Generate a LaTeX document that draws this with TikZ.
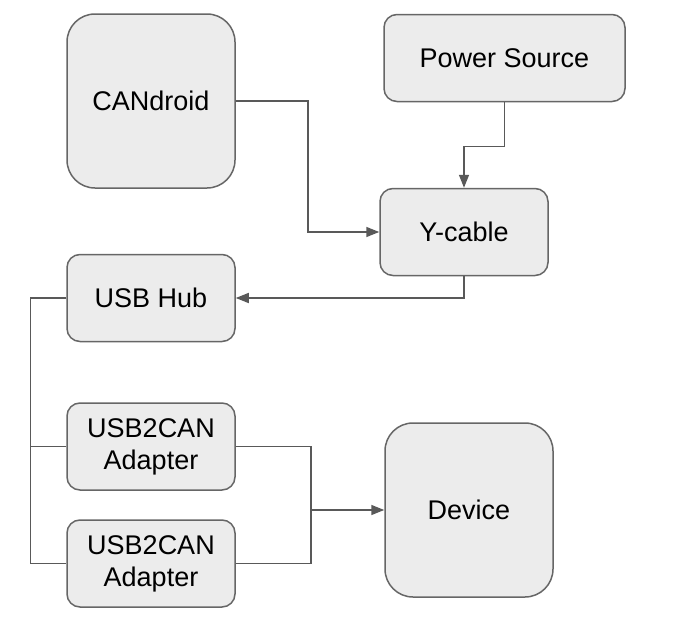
\documentclass[tikz,border=0pt]{standalone}
\usepackage{fontspec}
\setmainfont{Liberation Sans}
\usepackage{tikz}
\usetikzlibrary{arrows.meta, positioning, calc}
\usepackage{xcolor}

\begin{document}
\begin{tikzpicture}[
    x=1pt, y=-1pt,
    box/.style   = {rectangle, rounded corners=13pt, draw=gray!80!black, fill=gray!15, line width=1.5pt, inner sep=0pt, minimum width=168pt, minimum height=87pt, align=center, font=\fontsize{27}{32}\selectfont},
    bigbox/.style = {box, rounded corners=28pt, minimum height=174pt},
    wire/.style  = {draw=gray!70!black, line width=1.5pt},
    arrow/.style = {wire, -{Triangle[length=13pt, width=10pt]}}
]
\useasboundingbox (0,0) rectangle (697,629);

% Boxes
\node (candroid) [bigbox] at (151, 101) {CANdroid};
\node (power)    [box, minimum width=241pt] at (504.5, 58) {Power Source};
\node (ycable)   [box] at (464, 232) {Y-cable};
\node (hub)      [box] at (151, 298) {USB Hub};
\node (usbcan1)  [box] at (151, 446.5) {USB2CAN\\Adapter};
\node (usbcan2)  [box] at (151, 563.5) {USB2CAN\\Adapter};
\node (device)   [bigbox] at (469, 510) {Device};

% Power path
\draw [arrow] (candroid.east) -- ++(72,0) |- (ycable.west);
\draw [arrow] (power.south) -- ++(0,44) -| (ycable.north);
\draw [arrow] (ycable.south) |- (hub.east);

% USB hub to adapters
\draw [wire] (hub.west) -- ++(-36,0) |- (usbcan2.west);
\draw [wire] (usbcan1.west) -- ++(-36,0);

% Adapters to device
\coordinate (join) at (310, 510);
\draw [wire] (usbcan1.east) -- ++(75,0) |- (usbcan2.east);
\draw [arrow] (join) -- (device.west);

\end{tikzpicture}
\end{document}
